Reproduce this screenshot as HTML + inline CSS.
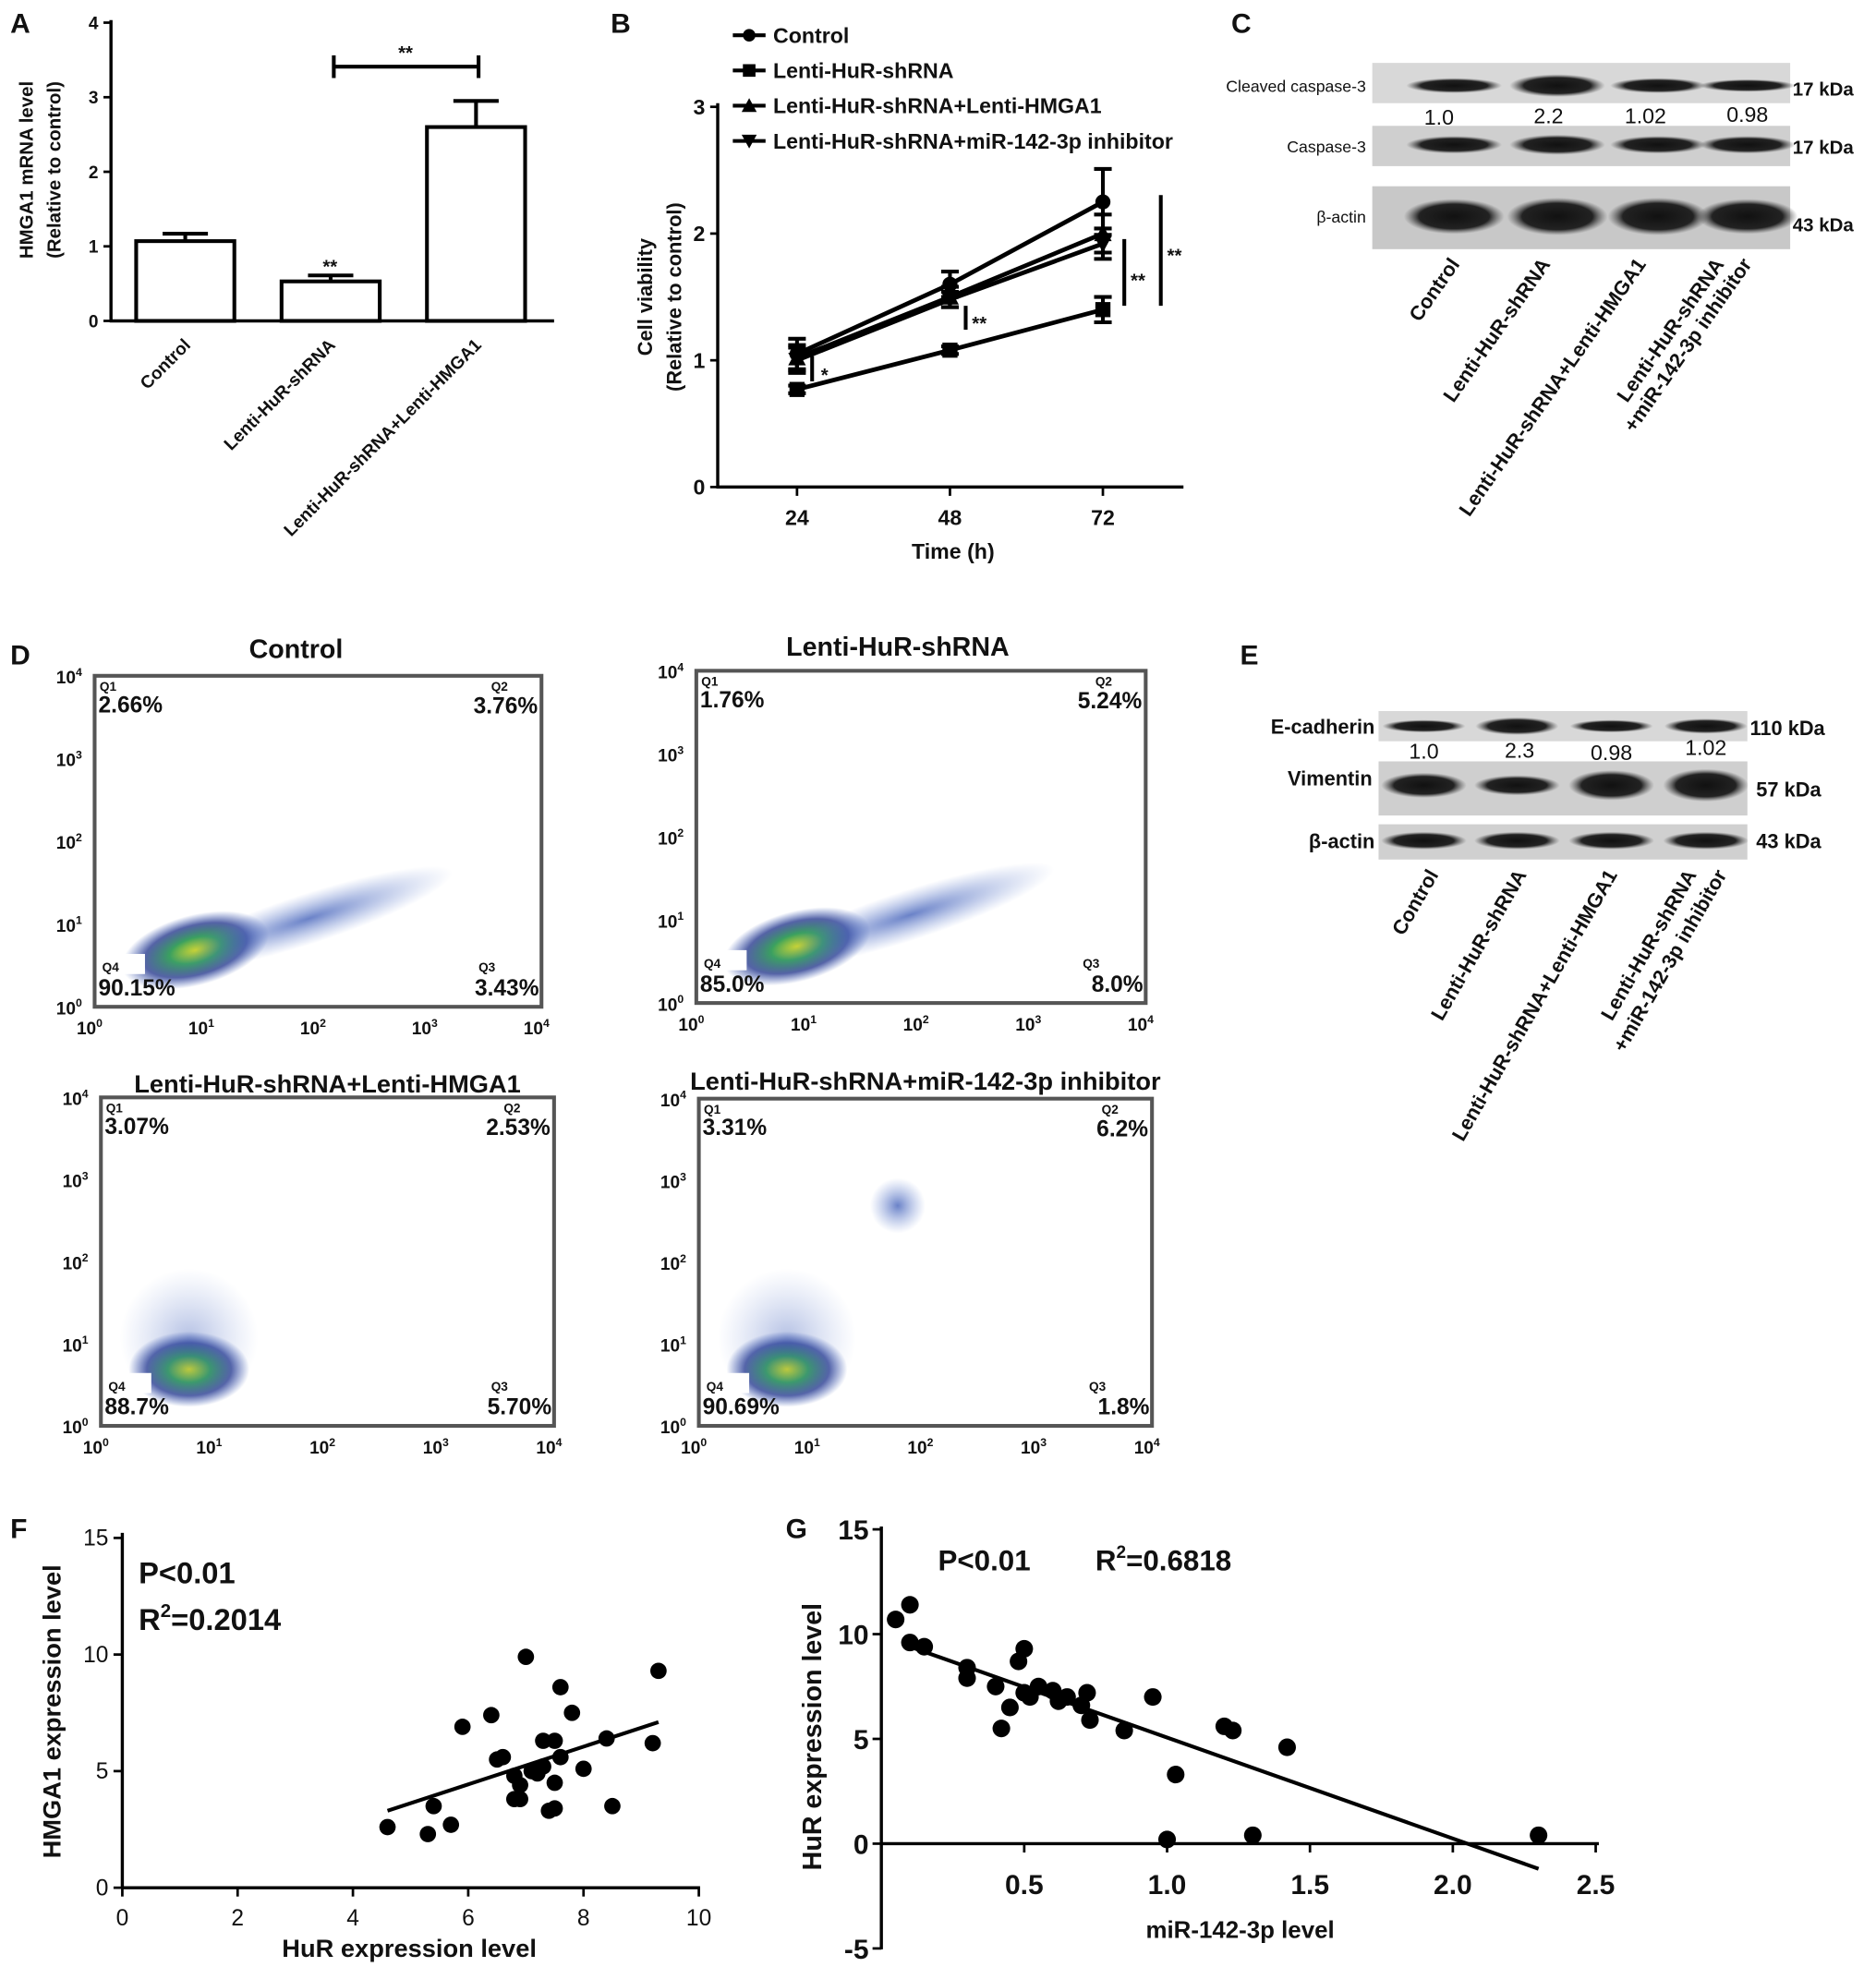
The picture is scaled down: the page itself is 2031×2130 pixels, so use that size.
<!DOCTYPE html>
<html><head><meta charset="utf-8"><style>
html,body{margin:0;padding:0;background:#fff;}
svg{display:block;font-family:"Liberation Sans",Arial,sans-serif;}
text{fill:#111;}
.b{font-weight:bold;}
</style></head><body>
<svg id="fig" width="2031" height="2130" viewBox="0 0 1490 1563" xmlns="http://www.w3.org/2000/svg">
<defs>
<radialGradient id="blob"><stop offset="0" stop-color="#d8e020"/><stop offset="0.35" stop-color="#3aa060"/><stop offset="0.7" stop-color="#2a3c90" stop-opacity="0.8"/><stop offset="1" stop-color="#3050b0" stop-opacity="0"/></radialGradient>
<radialGradient id="blob2"><stop offset="0" stop-color="#2a4cb0" stop-opacity="0.7"/><stop offset="1" stop-color="#6080d0" stop-opacity="0"/></radialGradient>
<radialGradient id="band"><stop offset="0" stop-color="#111"/><stop offset="0.7" stop-color="#222"/><stop offset="1" stop-color="#555" stop-opacity="0"/></radialGradient>
</defs>
<!-- Panel letters -->
<g class="b" font-size="22">
<text x="8" y="26">A</text><text x="485" y="26">B</text><text x="978" y="26">C</text>
<text x="8" y="528">D</text><text x="985" y="528">E</text><text x="8" y="1222">F</text><text x="624" y="1222">G</text>
</g>
<!-- Panel A -->
<g id="pa">
<line x1="88" y1="16" x2="88" y2="256" stroke="#000" stroke-width="2.5"/>
<line x1="87" y1="255" x2="440" y2="255" stroke="#000" stroke-width="2.5"/>
<text class="b" font-size="15" transform="translate(26,135) rotate(-90)" text-anchor="middle">HMGA1 mRNA level</text>
<text class="b" font-size="15" transform="translate(48,135) rotate(-90)" text-anchor="middle">(Relative to control)</text>
<g class="b" font-size="14">
<text transform="translate(152,275) rotate(-45)" text-anchor="end">Control</text>
<text transform="translate(267,275) rotate(-45)" text-anchor="end">Lenti-HuR-shRNA</text>
<text transform="translate(383,275) rotate(-45)" text-anchor="end">Lenti-HuR-shRNA+Lenti-HMGA1</text>
</g>
<line x1="265" y1="53" x2="380" y2="53" stroke="#000" stroke-width="3"/>
<line x1="265" y1="44" x2="265" y2="62" stroke="#000" stroke-width="3"/>
<line x1="380" y1="44" x2="380" y2="62" stroke="#000" stroke-width="3"/>
<text class="b" font-size="15" x="322" y="47" text-anchor="middle">**</text>
<text class="b" font-size="15" x="262" y="217" text-anchor="middle">**</text>
</g>
<!-- Panel B -->
<g id="pb">
<line x1="570" y1="82" x2="570" y2="388" stroke="#000" stroke-width="2.5"/>
<line x1="569" y1="387" x2="940" y2="387" stroke="#000" stroke-width="2.5"/>
<text class="b" font-size="16" transform="translate(518,236) rotate(-90)" text-anchor="middle">Cell viability</text>
<text class="b" font-size="16" transform="translate(541,236) rotate(-90)" text-anchor="middle">(Relative to control)</text>
<text class="b" font-size="17" x="757" y="444" text-anchor="middle">Time (h)</text>
<g class="b" font-size="15">
<line x1="645" y1="283" x2="645" y2="303" stroke="#000" stroke-width="3"/><text x="652" y="303">*</text>
<line x1="767" y1="243" x2="767" y2="262" stroke="#000" stroke-width="3"/><text x="772" y="262">**</text>
<line x1="893" y1="190" x2="893" y2="243" stroke="#000" stroke-width="3"/><text x="898" y="228">**</text>
<line x1="922" y1="155" x2="922" y2="243" stroke="#000" stroke-width="3"/><text x="927" y="208">**</text>
</g>
</g>
<!-- Panel C blots -->
<g id="pc">
<rect x="1090" y="50" width="332" height="32" fill="#d8d8d8"/>
<rect x="1090" y="100" width="332" height="32" fill="#cfcfcf"/>
<rect x="1090" y="148" width="332" height="50" fill="#c8c8c8"/>
<g font-size="13" text-anchor="end"><text x="1085" y="73">Cleaved caspase-3</text><text x="1085" y="121">Caspase-3</text><text x="1085" y="177">β-actin</text></g>
<g font-size="15" class="b"><text x="1424" y="76">17 kDa</text><text x="1424" y="122">17 kDa</text><text x="1424" y="184">43 kDa</text></g>
<g font-size="17" text-anchor="middle"><text x="1143" y="99">1.0</text><text x="1230" y="98">2.2</text><text x="1307" y="98">1.02</text><text x="1388" y="97">0.98</text></g>
<g class="b" font-size="16" text-anchor="end">
<text transform="translate(1160,210) rotate(-55)">Control</text>
<text transform="translate(1232,210) rotate(-55)">Lenti-HuR-shRNA</text>
<text transform="translate(1308,210) rotate(-55)">Lenti-HuR-shRNA+Lenti-HMGA1</text>
<text transform="translate(1370,210) rotate(-55)">Lenti-HuR-shRNA</text>
<text transform="translate(1392,210) rotate(-55)">+miR-142-3p inhibitor</text>
</g>
</g>
<!-- Panel E blots -->
<g id="pe">
<rect x="1095" y="565" width="293" height="24" fill="#d8d8d8"/>
<rect x="1095" y="605" width="293" height="43" fill="#cfcfcf"/>
<rect x="1095" y="655" width="293" height="28" fill="#d0d0d0"/>
<g font-size="16" class="b" text-anchor="end"><text x="1092" y="583">E-cadherin</text><text x="1090" y="624">Vimentin</text><text x="1092" y="674">β-actin</text></g>
<g font-size="16" class="b"><text x="1390" y="584">110 kDa</text><text x="1395" y="633">57 kDa</text><text x="1395" y="674">43 kDa</text></g>
<g font-size="17" text-anchor="middle"><text x="1131" y="603">1.0</text><text x="1207" y="602">2.3</text><text x="1280" y="604">0.98</text><text x="1355" y="600">1.02</text></g>
<g class="b" font-size="16" text-anchor="end">
<text transform="translate(1143,695) rotate(-60)">Control</text>
<text transform="translate(1213,695) rotate(-60)">Lenti-HuR-shRNA</text>
<text transform="translate(1285,695) rotate(-60)">Lenti-HuR-shRNA+Lenti-HMGA1</text>
<text transform="translate(1348,695) rotate(-60)">Lenti-HuR-shRNA</text>
<text transform="translate(1372,695) rotate(-60)">+miR-142-3p inhibitor</text>
</g>
</g>
<g id="flow"></g>
<!-- Panel F -->
<g id="pf">
<line x1="97" y1="1218" x2="97" y2="1501" stroke="#000" stroke-width="2.5"/>
<line x1="96" y1="1500" x2="556" y2="1500" stroke="#000" stroke-width="2.5"/>
<text class="b" font-size="20" transform="translate(48,1360) rotate(-90)" text-anchor="middle">HMGA1 expression level</text>
<text class="b" font-size="20" x="325" y="1555" text-anchor="middle">HuR expression level</text>
<text class="b" font-size="24" x="110" y="1258">P&lt;0.01</text>
<text class="b" font-size="24" x="110" y="1295">R<tspan font-size="15" dy="-10">2</tspan><tspan dy="10">=0.2014</tspan></text>
</g>
<!-- Panel G -->
<g id="pg">
<line x1="700" y1="1213" x2="700" y2="1549" stroke="#000" stroke-width="2.5"/>
<line x1="699" y1="1465" x2="1270" y2="1465" stroke="#000" stroke-width="2.5"/>
<text class="b" font-size="21" transform="translate(652,1380) rotate(-90)" text-anchor="middle">HuR expression level</text>
<text class="b" font-size="19" x="985" y="1540" text-anchor="middle">miR-142-3p level</text>
<text class="b" font-size="23" x="745" y="1248">P&lt;0.01</text>
<text class="b" font-size="23" x="870" y="1248">R<tspan font-size="14" dy="-10">2</tspan><tspan dy="10">=0.6818</tspan></text>
</g>
</svg>
<script>
const NS='http://www.w3.org/2000/svg';
function mk(parent,tag,attrs,txt){const e=document.createElementNS(NS,tag);for(const k in attrs)e.setAttribute(k,attrs[k]);if(txt!==undefined)e.textContent=txt;parent.appendChild(e);return e;}

// ---- Panel A data ----
const aCategories=['Control','Lenti-HuR-shRNA','Lenti-HuR-shRNA+Lenti-HMGA1'];
const aValues=[1.07,0.53,2.6];
const aErrors=[0.1,0.08,0.35];
const aTicks=[0,1,2,3,4];
// ---- Panel B data ----
const bTimes=[24,48,72];
const bSeriesNames=['Control','Lenti-HuR-shRNA','Lenti-HuR-shRNA+Lenti-HMGA1','Lenti-HuR-shRNA+miR-142-3p inhibitor'];
const bControl=[1.05,1.6,2.25];
const bShRNA=[0.77,1.08,1.4];
const bHMGA1=[1.02,1.5,2.0];
const bInhibitor=[1.0,1.48,1.92];
const bErrControl=[0.12,0.1,0.26];
const bErrShRNA=[0.03,0.03,0.1];
const bErrHMGA1=[0.1,0.08,0.15];
const bErrInhibitor=[0.1,0.06,0.12];
const bTicks=[0,1,2,3];
// ---- Panel F data ----
const fX=[4.6,5.3,5.4,5.7,5.9,6.4,6.5,6.6,6.8,6.9,6.8,7.0,7.1,7.3,7.3,7.4,7.5,7.5,7.5,7.6,7.6,7.8,8.0,8.4,8.5,9.2,9.3,7.2,6.9];
const fY=[2.6,2.3,3.5,2.7,6.9,7.4,5.5,5.6,3.8,3.8,4.8,9.9,5.0,5.2,6.3,3.3,3.4,4.5,6.3,8.6,5.6,7.5,5.1,6.4,3.5,6.2,9.3,4.9,4.4];
const fFitX=[4.6,9.3];
const fFitY=[3.3,7.1];
const fXTicks=[0,2,4,6,8,10];
const fYTicks=[0,5,10,15];
// ---- Panel G data ----
const gX=[0.05,0.1,0.1,0.15,0.3,0.3,0.4,0.42,0.45,0.48,0.5,0.5,0.55,0.6,0.62,0.65,0.7,0.72,0.73,0.85,0.95,1.0,1.03,1.2,1.23,1.3,1.42,2.3,0.52];
const gY=[10.7,11.4,9.6,9.4,8.4,7.9,7.5,5.5,6.5,8.7,9.3,7.2,7.5,7.3,6.8,7.0,6.6,7.2,5.9,5.4,7.0,0.2,3.3,5.6,5.4,0.4,4.6,0.4,7.0];
const gFitX=[0.1,2.3];
const gFitY=[9.4,-1.2];
const gXTicks=[0.5,1.0,1.5,2.0,2.5];
const gYTicks=[-5,0,5,10,15];

// ---- Panel A draw ----
const pa=document.getElementById('pa');
const aY=v=>255-v*59.25;
const aX=i=>147+i*115.5;
aTicks.forEach(t=>{
  const l=mk(pa,'line',{x1:82,x2:88,y1:aY(t),y2:aY(t),stroke:'#000','stroke-width':2});
  
  
  const tx=mk(pa,'text',{x:78,y:aY(t)+5,'text-anchor':'end','font-size':14,'font-weight':'bold'},t);
  
  
});
aValues.forEach((v,i)=>{
  const e=mk(pa,'line',{x1:aX(i),x2:aX(i),y1:aY(v),y2:aY(v+aErrors[i]),stroke:'#000','stroke-width':3});
  
  
  const c=mk(pa,'line',{x1:aX(i)-18,x2:aX(i)+18,y1:aY(v+aErrors[i]),y2:aY(v+aErrors[i]),stroke:'#000','stroke-width':3});
  
  
  const r=mk(pa,'rect',{x:aX(i)-39,y:aY(v),width:78,height:255-aY(v),fill:'#fff',stroke:'#000','stroke-width':3});
  
  
});

// ---- Panel B draw ----
const pb=document.getElementById('pb');
const bY=v=>387-v*100.7;
const bX=t=>633+(t-24)*(121.5/24);
bTicks.forEach(t=>{
  const l=mk(pb,'line',{x1:564,x2:570,y1:bY(t),y2:bY(t),stroke:'#000','stroke-width':2});
  
  
  const tx=mk(pb,'text',{x:560,y:bY(t)+6,'text-anchor':'end','font-size':17,'font-weight':'bold'},t);
  
  
});
bTimes.forEach(t=>{
  const l=mk(pb,'line',{x1:bX(t),x2:bX(t),y1:387,y2:394,stroke:'#000','stroke-width':2});
  
  
  const tx=mk(pb,'text',{x:bX(t),y:417,'text-anchor':'middle','font-size':17,'font-weight':'bold'},t);
  
  
});
const bSeries=[bControl,bShRNA,bHMGA1,bInhibitor];
const bErrs=[bErrControl,bErrShRNA,bErrHMGA1,bErrInhibitor];
const markers=['circle','square','up','down'];
function marker(g,kind,x,y,s){
  let e;
  if(kind==='circle')e=mk(g,'circle',{cx:x,cy:y,r:s,fill:'#000'});
  else if(kind==='square')e=mk(g,'rect',{x:x-s,y:y-s,width:2*s,height:2*s,fill:'#000'});
  else if(kind==='up')e=mk(g,'polygon',{points:`${x},${y-s-1} ${x-s-1},${y+s} ${x+s+1},${y+s}`,fill:'#000'});
  else e=mk(g,'polygon',{points:`${x},${y+s+1} ${x-s-1},${y-s} ${x+s+1},${y-s}`,fill:'#000'});
  return e;
}
bSeries.forEach((s,si)=>{
  const g=mk(pb,'g',{});
  
  
  const p=mk(g,'polyline',{points:s.map((v,i)=>bX(bTimes[i])+','+bY(v)).join(' '),fill:'none',stroke:'#000','stroke-width':3.5});
  
  
  s.forEach((v,i)=>{
    const x=bX(bTimes[i]),e=bErrs[si][i];
    const eb=mk(g,'path',{d:`M${x},${bY(v-e)}V${bY(v+e)}M${x-7},${bY(v-e)}H${x+7}M${x-7},${bY(v+e)}H${x+7}`,stroke:'#000','stroke-width':3,fill:'none'});
    
    
    const m=marker(g,markers[si],x,bY(v),6);
    
    
  });
  // legend
  const ly=28+si*28;
  const ll=mk(g,'line',{x1:582,x2:608,y1:ly,y2:ly,stroke:'#000','stroke-width':3});
  
  
  const lm=marker(g,markers[si],595,ly,5);
  
  
  const lt=mk(g,'text',{x:614,y:ly+6,'font-size':17,'font-weight':'bold'},bSeriesNames[si]);
  
  
});

// ---- Flow cytometry panels ----
const flowTitles=['Control','Lenti-HuR-shRNA','Lenti-HuR-shRNA+Lenti-HMGA1','Lenti-HuR-shRNA+miR-142-3p inhibitor'];
const flowQ1=['2.66%','1.76%','3.07%','3.31%'];
const flowQ2=['3.76%','5.24%','2.53%','6.2%'];
const flowQ3=['3.43%','8.0%','5.70%','1.8%'];
const flowQ4=['90.15%','85.0%','88.7%','90.69%'];
const flowBoxes=[[75,537,355,263],[553,533,357,264],[80,872,360,261],[555,873,360,260]];
const flowTitleY=[523,521,868,866];
const flow=document.getElementById('flow');
flowBoxes.forEach((b,k)=>{
  const [x,y,w,h]=b;
  const g=mk(flow,'g',{});
  
  
  const t=mk(g,'text',{x:k>=2?x+180:x+160,y:flowTitleY[k],'text-anchor':'middle','font-size':k>=2?20:21,'font-weight':'bold'},flowTitles[k]);
  
  
  // scatter blobs
  if(k<2){
    const e1=mk(g,'ellipse',{cx:x+80,cy:y+h-45,rx:60,ry:28,fill:'url(#blob)',transform:`rotate(-15 ${x+80} ${y+h-45})`});
    
    
    const e2=mk(g,'ellipse',{cx:x+170,cy:y+h-70,rx:120,ry:20,fill:'url(#blob2)',transform:`rotate(-18 ${x+170} ${y+h-70})`});
    
    
  } else {
    const e1=mk(g,'ellipse',{cx:x+70,cy:y+h-45,rx:48,ry:30,fill:'url(#blob)'});
    
    
    const e2=mk(g,'ellipse',{cx:x+70,cy:y+h-70,rx:55,ry:55,fill:'url(#blob2)',opacity:0.5});
    
    
    if(k===3){
      const e3=mk(g,'ellipse',{cx:x+158,cy:y+85,rx:22,ry:22,fill:'url(#blob2)'});
      
      
    }
  }
  const wb=mk(g,'rect',{x:x+2,y:y+h-42,width:38,height:16,fill:'#fff'});
  
  
  const fr=mk(g,'rect',{x:x,y:y,width:w,height:h,fill:'none',stroke:'#555','stroke-width':3});
  
  
  const labs=[['Q1',x+4,y+12,flowQ1[k],x+3,y+29,'start'],['Q2',x+w-40,y+12,flowQ2[k],x+w-3,y+30,'end'],['Q4',x+6,y+h-28,flowQ4[k],x+3,y+h-9,'start'],['Q3',x+w-50,y+h-28,flowQ3[k],x+w-2,y+h-9,'end']];
  labs.forEach(l=>{
    const q=mk(g,'text',{x:l[1],y:l[2],'font-size':10,'font-weight':'bold'},l[0]);
    
    
    const p=mk(g,'text',{x:l[4],y:l[5],'text-anchor':l[6],'font-size':18,'font-weight':'bold'},l[3]);
    
    
  });
  for(let i=0;i<=4;i++){
    const ty=mk(g,'text',{x:x-10,y:y+h-i*(h/4)+6,'text-anchor':'end','font-size':14,'font-weight':'bold'});
    
    
    ty.innerHTML='10<tspan font-size="9" dy="-6">'+i+'</tspan>';
    const tx=mk(g,'text',{x:x+i*(w/4)-4,y:y+h+22,'text-anchor':'middle','font-size':14,'font-weight':'bold'});
    
    
    tx.innerHTML='10<tspan font-size="9" dy="-6">'+i+'</tspan>';
  }
});

// ---- Blot bands ----
function bands(id,xs,rows){
  const p=document.getElementById(id);
  rows.forEach(r=>{xs.forEach((cx,i)=>{
    const b=mk(p,'ellipse',{cx:cx,cy:r[0],rx:r[1],ry:r[2][i],fill:'url(#band)'});
    
    
  });});
}
bands('pc',[1155,1237,1317,1388],[[68,38,[6,9,6,5]],[115,38,[7,8,7,7]],[172,40,[14,15,15,14]]]);
bands('pe',[1131,1205,1280,1355],[[577,33,[5,7,5,6]],[624,34,[10,8,12,13]],[668,34,[7,7,7,7]]]);

// ---- Panel F draw ----
const pf=document.getElementById('pf');
const fXs=v=>97+v*45.8, fYs=v=>1500-v*18.53;
fXTicks.forEach(t=>{
  const l=mk(pf,'line',{x1:fXs(t),x2:fXs(t),y1:1500,y2:1507,stroke:'#000','stroke-width':2});
  
  
  const tx=mk(pf,'text',{x:fXs(t),y:1530,'text-anchor':'middle','font-size':18},t);
  
  
});
fYTicks.forEach(t=>{
  const l=mk(pf,'line',{x1:90,x2:97,y1:fYs(t),y2:fYs(t),stroke:'#000','stroke-width':2});
  
  
  const tx=mk(pf,'text',{x:86,y:fYs(t)+6,'text-anchor':'end','font-size':18},t);
  
  
});
fX.forEach((v,i)=>{
  const c=mk(pf,'circle',{cx:fXs(v),cy:fYs(fY[i]),r:6.5,fill:'#000'});
  
  
});
const ff=mk(pf,'line',{x1:fXs(fFitX[0]),y1:fYs(fFitY[0]),x2:fXs(fFitX[1]),y2:fYs(fFitY[1]),stroke:'#000','stroke-width':3});



// ---- Panel G draw ----
const pg=document.getElementById('pg');
const gXs=v=>700+v*227, gYs=v=>1465-v*16.65;
gXTicks.forEach(t=>{
  const l=mk(pg,'line',{x1:gXs(t),x2:gXs(t),y1:1465,y2:1472,stroke:'#000','stroke-width':2});
  
  
  const tx=mk(pg,'text',{x:gXs(t),y:1505,'text-anchor':'middle','font-size':22,'font-weight':'bold'},t.toFixed(1));
  
  
});
gYTicks.forEach(t=>{
  const l=mk(pg,'line',{x1:693,x2:700,y1:gYs(t),y2:gYs(t),stroke:'#000','stroke-width':2});
  
  
  const tx=mk(pg,'text',{x:690,y:gYs(t)+8,'text-anchor':'end','font-size':22,'font-weight':'bold'},t);
  
  
});
gX.forEach((v,i)=>{
  const c=mk(pg,'circle',{cx:gXs(v),cy:gYs(gY[i]),r:7,fill:'#000'});
  
  
});
const gf=mk(pg,'line',{x1:gXs(gFitX[0]),y1:gYs(gFitY[0]),x2:gXs(gFitX[1]),y2:gYs(gFitY[1]),stroke:'#000','stroke-width':3});


</script>
</body></html>
